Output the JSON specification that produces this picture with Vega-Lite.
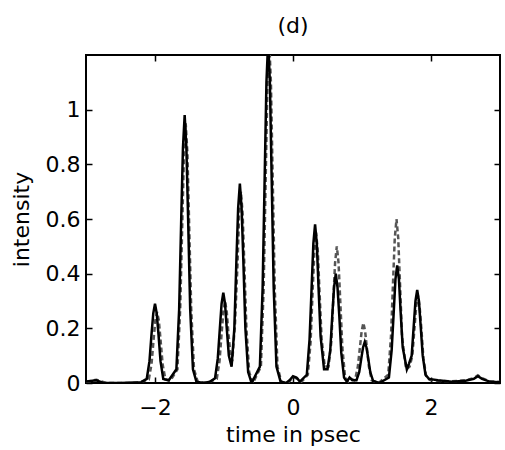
{
  "$schema": "https://vega.github.io/schema/vega-lite/v6.json",
  "width": 414,
  "height": 328,
  "autosize": {"type": "none"},
  "padding": {"left": 86, "top": 55, "right": 5, "bottom": 67},
  "background": "white",
  "config": {
    "view": {"stroke": "black", "strokeWidth": 2},
    "font": "DejaVu Sans",
    "axis": {
      "domain": false, "grid": false, "tickColor": "black", "tickSize": -6, "tickWidth": 1.5,
      "labelFont": "DejaVu Sans", "labelFontSize": 22, "labelColor": "black",
      "titleFont": "DejaVu Sans", "titleFontSize": 22, "titleFontWeight": "normal", "titleColor": "black"
    }
  },
  "title": {"text": "(d)", "font": "DejaVu Sans", "fontSize": 22, "fontWeight": "normal", "color": "black", "baseline": "alphabetic", "offset": -1},
  "data": {"values": [
    {"t": -3.0, "I": 0.005, "s": "a"}, {"t": -2.85, "I": 0.01, "s": "a"}, {"t": -2.75, "I": 0.0, "s": "a"}, {"t": -2.5, "I": 0.0, "s": "a"}, {"t": -2.2, "I": 0.003, "s": "a"},
    {"t": -2.12, "I": 0.015, "s": "a"}, {"t": -2.08, "I": 0.08, "s": "a"}, {"t": -2.05, "I": 0.18, "s": "a"}, {"t": -2.025, "I": 0.255, "s": "a"}, {"t": -2.0, "I": 0.29, "s": "a"}, {"t": -1.975, "I": 0.255, "s": "a"}, {"t": -1.95, "I": 0.18, "s": "a"}, {"t": -1.92, "I": 0.08, "s": "a"}, {"t": -1.88, "I": 0.015, "s": "a"},
    {"t": -1.8, "I": 0.01, "s": "a"},
    {"t": -1.69, "I": 0.05, "s": "a"}, {"t": -1.65, "I": 0.27, "s": "a"}, {"t": -1.62, "I": 0.6, "s": "a"}, {"t": -1.595, "I": 0.86, "s": "a"}, {"t": -1.57, "I": 0.98, "s": "a"}, {"t": -1.545, "I": 0.86, "s": "a"}, {"t": -1.52, "I": 0.6, "s": "a"}, {"t": -1.49, "I": 0.27, "s": "a"}, {"t": -1.45, "I": 0.05, "s": "a"},
    {"t": -1.4, "I": 0.005, "s": "a"}, {"t": -1.3, "I": 0.0, "s": "a"}, {"t": -1.2, "I": 0.005, "s": "a"},
    {"t": -1.13, "I": 0.017, "s": "a"}, {"t": -1.09, "I": 0.09, "s": "a"}, {"t": -1.06, "I": 0.2, "s": "a"}, {"t": -1.035, "I": 0.29, "s": "a"}, {"t": -1.01, "I": 0.33, "s": "a"}, {"t": -0.985, "I": 0.29, "s": "a"}, {"t": -0.96, "I": 0.2, "s": "a"}, {"t": -0.93, "I": 0.1, "s": "a"},
    {"t": -0.89, "I": 0.06, "s": "a"}, {"t": -0.85, "I": 0.2, "s": "a"}, {"t": -0.82, "I": 0.45, "s": "a"}, {"t": -0.795, "I": 0.64, "s": "a"}, {"t": -0.77, "I": 0.73, "s": "a"}, {"t": -0.745, "I": 0.64, "s": "a"}, {"t": -0.72, "I": 0.45, "s": "a"}, {"t": -0.69, "I": 0.2, "s": "a"}, {"t": -0.65, "I": 0.04, "s": "a"},
    {"t": -0.6, "I": 0.0, "s": "a"},
    {"t": -0.48, "I": 0.06, "s": "a"}, {"t": -0.44, "I": 0.35, "s": "a"}, {"t": -0.41, "I": 0.76, "s": "a"}, {"t": -0.385, "I": 1.1, "s": "a"}, {"t": -0.36, "I": 1.25, "s": "a"}, {"t": -0.335, "I": 1.1, "s": "a"}, {"t": -0.31, "I": 0.76, "s": "a"}, {"t": -0.28, "I": 0.35, "s": "a"}, {"t": -0.24, "I": 0.06, "s": "a"},
    {"t": -0.18, "I": 0.005, "s": "a"}, {"t": -0.1, "I": 0.0, "s": "a"}, {"t": -0.05, "I": 0.01, "s": "a"}, {"t": 0.0, "I": 0.025, "s": "a"}, {"t": 0.05, "I": 0.02, "s": "a"}, {"t": 0.1, "I": 0.005, "s": "a"},
    {"t": 0.2, "I": 0.03, "s": "a"}, {"t": 0.24, "I": 0.16, "s": "a"}, {"t": 0.27, "I": 0.35, "s": "a"}, {"t": 0.295, "I": 0.51, "s": "a"}, {"t": 0.32, "I": 0.58, "s": "a"}, {"t": 0.345, "I": 0.51, "s": "a"}, {"t": 0.37, "I": 0.35, "s": "a"}, {"t": 0.4, "I": 0.17, "s": "a"},
    {"t": 0.45, "I": 0.05, "s": "a"},
    {"t": 0.5, "I": 0.05, "s": "a"}, {"t": 0.54, "I": 0.12, "s": "a"}, {"t": 0.57, "I": 0.25, "s": "a"}, {"t": 0.595, "I": 0.35, "s": "a"}, {"t": 0.62, "I": 0.4, "s": "a"}, {"t": 0.645, "I": 0.35, "s": "a"}, {"t": 0.67, "I": 0.25, "s": "a"}, {"t": 0.7, "I": 0.11, "s": "a"}, {"t": 0.74, "I": 0.02, "s": "a"},
    {"t": 0.78, "I": 0.005, "s": "a"}, {"t": 0.82, "I": 0.02, "s": "a"}, {"t": 0.86, "I": 0.01, "s": "a"},
    {"t": 0.92, "I": 0.01, "s": "a"}, {"t": 0.96, "I": 0.04, "s": "a"}, {"t": 0.99, "I": 0.09, "s": "a"}, {"t": 1.015, "I": 0.13, "s": "a"}, {"t": 1.04, "I": 0.15, "s": "a"}, {"t": 1.065, "I": 0.13, "s": "a"}, {"t": 1.09, "I": 0.09, "s": "a"}, {"t": 1.12, "I": 0.04, "s": "a"}, {"t": 1.16, "I": 0.008, "s": "a"},
    {"t": 1.25, "I": 0.0, "s": "a"},
    {"t": 1.39, "I": 0.02, "s": "a"}, {"t": 1.43, "I": 0.12, "s": "a"}, {"t": 1.46, "I": 0.26, "s": "a"}, {"t": 1.485, "I": 0.38, "s": "a"}, {"t": 1.51, "I": 0.43, "s": "a"}, {"t": 1.535, "I": 0.38, "s": "a"}, {"t": 1.56, "I": 0.26, "s": "a"}, {"t": 1.59, "I": 0.13, "s": "a"},
    {"t": 1.65, "I": 0.05, "s": "a"},
    {"t": 1.68, "I": 0.07, "s": "a"}, {"t": 1.72, "I": 0.1, "s": "a"}, {"t": 1.75, "I": 0.21, "s": "a"}, {"t": 1.775, "I": 0.3, "s": "a"}, {"t": 1.8, "I": 0.34, "s": "a"}, {"t": 1.825, "I": 0.3, "s": "a"}, {"t": 1.85, "I": 0.21, "s": "a"}, {"t": 1.88, "I": 0.1, "s": "a"}, {"t": 1.92, "I": 0.03, "s": "a"},
    {"t": 1.97, "I": 0.015, "s": "a"}, {"t": 2.1, "I": 0.01, "s": "a"}, {"t": 2.3, "I": 0.005, "s": "a"}, {"t": 2.5, "I": 0.008, "s": "a"}, {"t": 2.62, "I": 0.015, "s": "a"}, {"t": 2.68, "I": 0.025, "s": "a"}, {"t": 2.74, "I": 0.015, "s": "a"}, {"t": 2.85, "I": 0.005, "s": "a"}, {"t": 3.0, "I": 0.003, "s": "a"},

    {"t": -3.0, "I": 0.003, "s": "b"}, {"t": -2.85, "I": 0.012, "s": "b"}, {"t": -2.7, "I": 0.0, "s": "b"}, {"t": -2.3, "I": 0.0, "s": "b"}, {"t": -2.2, "I": 0.004, "s": "b"},
    {"t": -2.09, "I": 0.013, "s": "b"}, {"t": -2.05, "I": 0.07, "s": "b"}, {"t": -2.02, "I": 0.16, "s": "b"}, {"t": -1.995, "I": 0.23, "s": "b"}, {"t": -1.97, "I": 0.26, "s": "b"}, {"t": -1.945, "I": 0.23, "s": "b"}, {"t": -1.92, "I": 0.16, "s": "b"}, {"t": -1.89, "I": 0.07, "s": "b"}, {"t": -1.85, "I": 0.013, "s": "b"},
    {"t": -1.78, "I": 0.008, "s": "b"},
    {"t": -1.675, "I": 0.05, "s": "b"}, {"t": -1.635, "I": 0.27, "s": "b"}, {"t": -1.605, "I": 0.58, "s": "b"}, {"t": -1.58, "I": 0.84, "s": "b"}, {"t": -1.555, "I": 0.95, "s": "b"}, {"t": -1.53, "I": 0.84, "s": "b"}, {"t": -1.505, "I": 0.58, "s": "b"}, {"t": -1.475, "I": 0.27, "s": "b"}, {"t": -1.435, "I": 0.05, "s": "b"},
    {"t": -1.38, "I": 0.004, "s": "b"}, {"t": -1.25, "I": 0.0, "s": "b"},
    {"t": -1.105, "I": 0.015, "s": "b"}, {"t": -1.065, "I": 0.08, "s": "b"}, {"t": -1.035, "I": 0.18, "s": "b"}, {"t": -1.01, "I": 0.26, "s": "b"}, {"t": -0.985, "I": 0.3, "s": "b"}, {"t": -0.96, "I": 0.26, "s": "b"}, {"t": -0.935, "I": 0.18, "s": "b"}, {"t": -0.905, "I": 0.1, "s": "b"},
    {"t": -0.88, "I": 0.08, "s": "b"},
    {"t": -0.84, "I": 0.22, "s": "b"}, {"t": -0.805, "I": 0.43, "s": "b"}, {"t": -0.78, "I": 0.62, "s": "b"}, {"t": -0.755, "I": 0.7, "s": "b"}, {"t": -0.73, "I": 0.62, "s": "b"}, {"t": -0.705, "I": 0.43, "s": "b"}, {"t": -0.675, "I": 0.2, "s": "b"}, {"t": -0.635, "I": 0.04, "s": "b"},
    {"t": -0.58, "I": 0.0, "s": "b"},
    {"t": -0.465, "I": 0.06, "s": "b"}, {"t": -0.425, "I": 0.35, "s": "b"}, {"t": -0.395, "I": 0.76, "s": "b"}, {"t": -0.37, "I": 1.1, "s": "b"}, {"t": -0.345, "I": 1.25, "s": "b"}, {"t": -0.32, "I": 1.1, "s": "b"}, {"t": -0.295, "I": 0.76, "s": "b"}, {"t": -0.265, "I": 0.35, "s": "b"}, {"t": -0.225, "I": 0.06, "s": "b"},
    {"t": -0.17, "I": 0.005, "s": "b"}, {"t": -0.08, "I": 0.0, "s": "b"}, {"t": -0.03, "I": 0.012, "s": "b"}, {"t": 0.02, "I": 0.02, "s": "b"}, {"t": 0.07, "I": 0.015, "s": "b"}, {"t": 0.12, "I": 0.004, "s": "b"},
    {"t": 0.215, "I": 0.03, "s": "b"}, {"t": 0.255, "I": 0.15, "s": "b"}, {"t": 0.285, "I": 0.34, "s": "b"}, {"t": 0.31, "I": 0.48, "s": "b"}, {"t": 0.335, "I": 0.55, "s": "b"}, {"t": 0.36, "I": 0.48, "s": "b"}, {"t": 0.385, "I": 0.33, "s": "b"}, {"t": 0.415, "I": 0.16, "s": "b"},
    {"t": 0.46, "I": 0.06, "s": "b"},
    {"t": 0.515, "I": 0.06, "s": "b"}, {"t": 0.555, "I": 0.15, "s": "b"}, {"t": 0.585, "I": 0.31, "s": "b"}, {"t": 0.61, "I": 0.44, "s": "b"}, {"t": 0.635, "I": 0.5, "s": "b"}, {"t": 0.66, "I": 0.44, "s": "b"}, {"t": 0.685, "I": 0.3, "s": "b"}, {"t": 0.715, "I": 0.13, "s": "b"}, {"t": 0.755, "I": 0.02, "s": "b"},
    {"t": 0.8, "I": 0.005, "s": "b"}, {"t": 0.85, "I": 0.015, "s": "b"}, {"t": 0.89, "I": 0.01, "s": "b"},
    {"t": 0.9, "I": 0.012, "s": "b"}, {"t": 0.94, "I": 0.06, "s": "b"}, {"t": 0.97, "I": 0.13, "s": "b"}, {"t": 0.995, "I": 0.19, "s": "b"}, {"t": 1.02, "I": 0.22, "s": "b"}, {"t": 1.045, "I": 0.19, "s": "b"}, {"t": 1.07, "I": 0.13, "s": "b"}, {"t": 1.1, "I": 0.06, "s": "b"}, {"t": 1.14, "I": 0.01, "s": "b"},
    {"t": 1.24, "I": 0.0, "s": "b"},
    {"t": 1.38, "I": 0.03, "s": "b"}, {"t": 1.42, "I": 0.17, "s": "b"}, {"t": 1.45, "I": 0.37, "s": "b"}, {"t": 1.475, "I": 0.53, "s": "b"}, {"t": 1.5, "I": 0.6, "s": "b"}, {"t": 1.525, "I": 0.53, "s": "b"}, {"t": 1.55, "I": 0.37, "s": "b"}, {"t": 1.58, "I": 0.17, "s": "b"},
    {"t": 1.64, "I": 0.05, "s": "b"},
    {"t": 1.69, "I": 0.06, "s": "b"}, {"t": 1.73, "I": 0.1, "s": "b"}, {"t": 1.76, "I": 0.2, "s": "b"}, {"t": 1.785, "I": 0.28, "s": "b"}, {"t": 1.81, "I": 0.32, "s": "b"}, {"t": 1.835, "I": 0.28, "s": "b"}, {"t": 1.86, "I": 0.2, "s": "b"}, {"t": 1.89, "I": 0.09, "s": "b"}, {"t": 1.93, "I": 0.025, "s": "b"},
    {"t": 1.98, "I": 0.012, "s": "b"}, {"t": 2.1, "I": 0.008, "s": "b"}, {"t": 2.3, "I": 0.006, "s": "b"}, {"t": 2.5, "I": 0.01, "s": "b"}, {"t": 2.62, "I": 0.018, "s": "b"}, {"t": 2.68, "I": 0.028, "s": "b"}, {"t": 2.74, "I": 0.018, "s": "b"}, {"t": 2.85, "I": 0.006, "s": "b"}, {"t": 3.0, "I": 0.004, "s": "b"}
  ]},
  "layer": [
    {
      "transform": [{"filter": "datum.s === 'b'"}],
      "mark": {"type": "line", "color": "#555555", "strokeWidth": 2.5, "strokeDash": [5, 3], "clip": true},
      "encoding": {
        "x": {"field": "t", "type": "quantitative", "scale": {"domain": [-3, 3], "nice": false, "zero": false},
              "axis": {"orient": "top", "values": [-2, 0, 2], "labels": false, "title": null}},
        "y": {"field": "I", "type": "quantitative", "scale": {"domain": [0, 1.2], "nice": false},
              "axis": {"orient": "right", "values": [0, 0.2, 0.4, 0.6, 0.8, 1], "labels": false, "title": null}}
      }
    },
    {
      "transform": [{"filter": "datum.s === 'a'"}],
      "mark": {"type": "line", "color": "black", "strokeWidth": 2.5, "clip": true},
      "encoding": {
        "x": {"field": "t", "type": "quantitative", "scale": {"domain": [-3, 3], "nice": false, "zero": false},
              "axis": {"orient": "bottom", "values": [-2, 0, 2], "format": "~g", "labelPadding": 20, "title": "time in psec", "titlePadding": 6}},
        "y": {"field": "I", "type": "quantitative", "scale": {"domain": [0, 1.2], "nice": false},
              "axis": {"orient": "left", "values": [0, 0.2, 0.4, 0.6, 0.8, 1], "format": "~g", "labelPadding": 12, "title": "intensity", "titlePadding": 12}}
      }
    }
  ],
  "resolve": {"scale": {"x": "independent", "y": "independent"}, "axis": {"x": "independent", "y": "independent"}}
}
